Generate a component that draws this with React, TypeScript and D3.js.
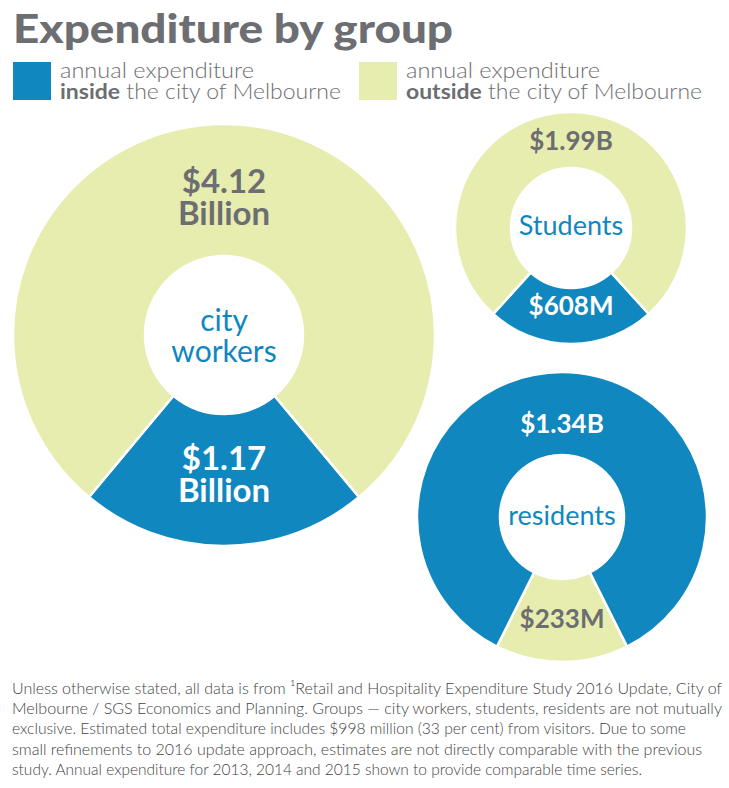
import React from "react";
import * as d3 from "d3";

const groups = ["city workers", "Students", "residents"];
const insideValues = [1.17, 0.608, 1.34]; // $ billions, inside the city
const outsideValues = [4.12, 1.99, 0.233]; // $ billions, outside the city
const insideLabels = [["$1.17", "Billion"], ["$608M"], ["$1.34B"]];
const outsideLabels = [["$4.12", "Billion"], ["$1.99B"], ["$233M"]];
const centerLabels = [["city", "workers"], ["Students"], ["residents"]];
const legendLabels = [
  ["annual expenditure", "inside", " the city of Melbourne"],
  ["annual expenditure", "outside", " the city of Melbourne"],
];
const footnoteLines = [
  "Unless otherwise stated, all data is from \u00B9Retail and Hospitality Expenditure Study 2016 Update, City of",
  "Melbourne / SGS Economics and Planning. Groups \u2014 city workers, students, residents are not mutually",
  "exclusive. Estimated total expenditure includes $998 million (33 per cent) from visitors. Due to some",
  "small refinements to 2016 update approach, estimates are not directly comparable with the previous",
  "study. Annual expenditure for 2013, 2014 and 2015 shown to provide comparable time series.",
];

const BLUE = "#1187bf";
const YELLOW = "#e6edae";
const GRAY = "#6d6e71";
const FONT = "Lato, 'Open Sans', sans-serif";

// layout of each donut (positions only)
const layout = [
  { cx: 224, cy: 335, r: 211, ir: 79, fs: 33, cfs: 30, top: [-142, -110], bottom: [135, 167], center: [-4, 27] },
  { cx: 571, cy: 228, r: 116, ir: 60, fs: 26, cfs: 27, top: [-78], bottom: [87], center: [7] },
  { cx: 562, cy: 517, r: 145, ir: 62, fs: 26, cfs: 27, top: [-84], bottom: [111], center: [8] },
];
const footEnds = [722, 722, 686, 702, 642];

export default function App() {
  const color = d3.scaleOrdinal<string, string>().domain(["inside", "outside"]).range([BLUE, YELLOW]);
  return (
    <svg width={729} height={788} style={{ position: "absolute", left: 0, top: 0, background: "#fff" }} fontFamily={FONT}>
      <text x={13} y={43} fontSize={40} fontWeight={900} fill={GRAY} textLength={440} lengthAdjust="spacingAndGlyphs">
        Expenditure by group
      </text>
      {/* legend */}
      {legendLabels.map((l, i) => {
        const x0 = i === 0 ? 13 : 359;
        return (
          <g key={i}>
            <rect x={x0} y={62} width={38} height={38} fill={color(i === 0 ? "inside" : "outside")} />
            <text x={x0 + 47} y={78} fontSize={21} fontWeight={300} fill={GRAY} textLength={194} lengthAdjust="spacingAndGlyphs">
              {l[0]}
            </text>
            <text x={x0 + 47} y={99} fontSize={21} fill={GRAY} textLength={i === 0 ? 281 : 296} lengthAdjust="spacingAndGlyphs">
              <tspan fontWeight={700}>{l[1]}</tspan>
              <tspan fontWeight={300}>{l[2]}</tspan>
            </text>
          </g>
        );
      })}
      {groups.map((g, i) => {
        const L = layout[i];
        const vals = [
          { key: "inside", v: insideValues[i], labels: insideLabels[i] },
          { key: "outside", v: outsideValues[i], labels: outsideLabels[i] },
        ];
        const total = vals[0].v + vals[1].v;
        const small = vals[0].v <= vals[1].v ? 0 : 1;
        const ordered = small === 0 ? vals : [vals[1], vals[0]];
        const f = ordered[0].v / total;
        const pie = d3
          .pie<any>()
          .sort(null)
          .value((d) => d.v)
          .startAngle(Math.PI - Math.PI * f)
          .endAngle(Math.PI - Math.PI * f + 2 * Math.PI);
        const arc = d3.arc<any>().innerRadius(L.ir).outerRadius(L.r);
        const arcs = pie(ordered);
        return (
          <g key={g} transform={`translate(${L.cx},${L.cy})`}>
            {arcs.map((a) => (
              <path key={a.data.key} d={arc(a) as string} fill={color(a.data.key)} stroke="#fff" strokeWidth={2.5} />
            ))}
            {/* bottom label = small segment, top label = large segment */}
            {ordered[0].labels.map((t, j) => (
              <text key={"b" + j} x={0} y={L.bottom[j]} textAnchor="middle" fontSize={L.fs} fontWeight={700}
                fill={ordered[0].key === "inside" ? "#fff" : GRAY}>
                {t}
              </text>
            ))}
            {ordered[1].labels.map((t, j) => (
              <text key={"t" + j} x={0} y={L.top[j]} textAnchor="middle" fontSize={L.fs} fontWeight={700}
                fill={ordered[1].key === "inside" ? "#fff" : GRAY}>
                {t}
              </text>
            ))}
            {centerLabels[i].map((t, j) => (
              <text key={"c" + j} x={0} y={L.center[j]} textAnchor="middle" fontSize={L.cfs} fill={BLUE}>
                {t}
              </text>
            ))}
          </g>
        );
      })}
      {footnoteLines.map((t, i) => (
        <text key={i} x={12} y={694 + i * 20.2} fontSize={16} fontWeight={300} fill="#444"
          textLength={footEnds[i] - 12} lengthAdjust="spacingAndGlyphs">
          {t}
        </text>
      ))}
    </svg>
  );
}
